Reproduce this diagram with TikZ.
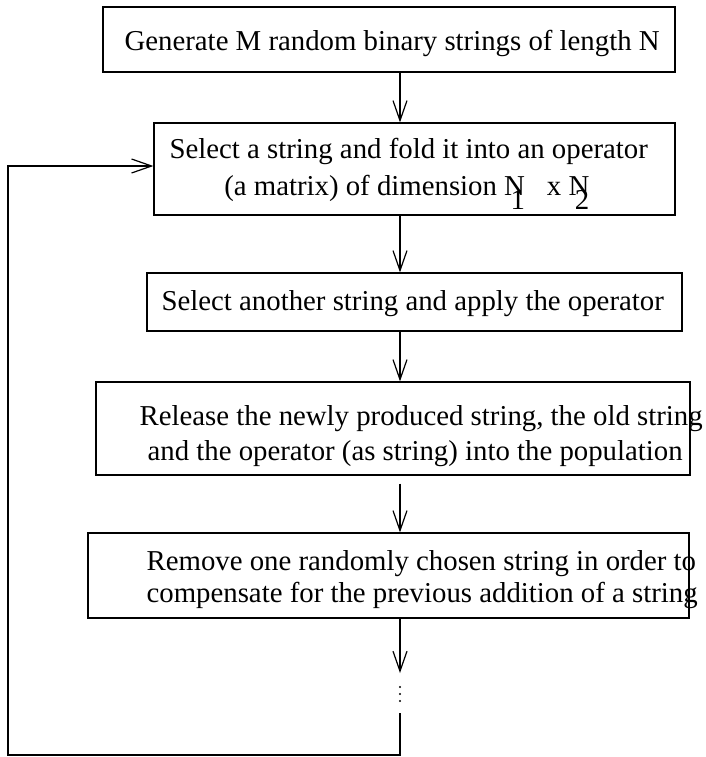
\documentclass[tikz,border=0pt]{standalone}
\usepackage{fontspec}
\setmainfont{Liberation Serif}
\usetikzlibrary{arrows.meta}
\usetikzlibrary{calc}

\begin{document}
\begin{tikzpicture}[x=0.5pt, y=-0.5pt, line width=0.6pt,
        >={Straight Barb[length=10pt,width=7pt]},
        box/.style={draw, rectangle, inner sep=0pt},
        txt/.style={anchor=base west, inner sep=0pt, font=\fontsize{14.4}{17}\selectfont}]
        \useasboundingbox (0,0) rectangle (706,757);
        \coordinate (spine) at (400,0);
        \node[box, minimum width=286pt, minimum height=32.5pt] (gen) at (389,39.5) {};
        \node[box, minimum width=260.5pt, minimum height=46pt] (fold) at (414.5,169) {};
        \node[box, minimum width=267.5pt, minimum height=29pt] (apply) at (414.5,302) {};
        \node[box, minimum width=297pt, minimum height=46.5pt] (release) at (393,428.5) {};
        \node[box, minimum width=300.5pt, minimum height=42.5pt] (remove) at (388.5,575.5) {};
        \node[txt] (genText) at (124,50) {Generate M random binary strings of length N};
        \node[txt] (foldTextA) at (169,158) {Select a string and fold it into an operator};
        \node[txt, anchor=base east] (foldTextB) at (590,195) {(a matrix) of dimension N\kern-0.5em\raisebox{-7pt}{1}\hspace{11pt}x N\kern-0.5em\raisebox{-7pt}{2}};
        \node[txt] (applyText) at (161,310) {Select another string and apply the operator};
        \node[txt] (releaseTextA) at (139,425) {Release the newly produced string, the old string};
        \node[txt] (releaseTextB) at (147,460) {and the operator (as string) into the population};
        \node[txt] (removeTextA) at (146,570) {Remove one randomly chosen string in order to};
        \node[txt] (removeTextB) at (146,602) {compensate for the previous addition of a string};
        \draw[->] (gen.south -| spine) -- (fold.north -| spine);
        \draw[->] (fold.south -| spine) -- (apply.north -| spine);
        \draw[->] (apply.south -| spine) -- (release.north -| spine);
        \draw[->] ($(release.south -| spine)+(0,8)$) -- (remove.north -| spine);
        \coordinate (tip) at (400,673);
        \coordinate (loop) at (400,713);
        \coordinate (corner) at (8,755);
        \draw[->] (remove.south -| spine) -- (tip);
        \foreach \y in {687,694,701} \fill (400,\y) circle (0.55pt);
        \draw[->] (loop) |- (corner) |- ([yshift=1.5pt]fold.west);
    \end{tikzpicture}
\end{document}
